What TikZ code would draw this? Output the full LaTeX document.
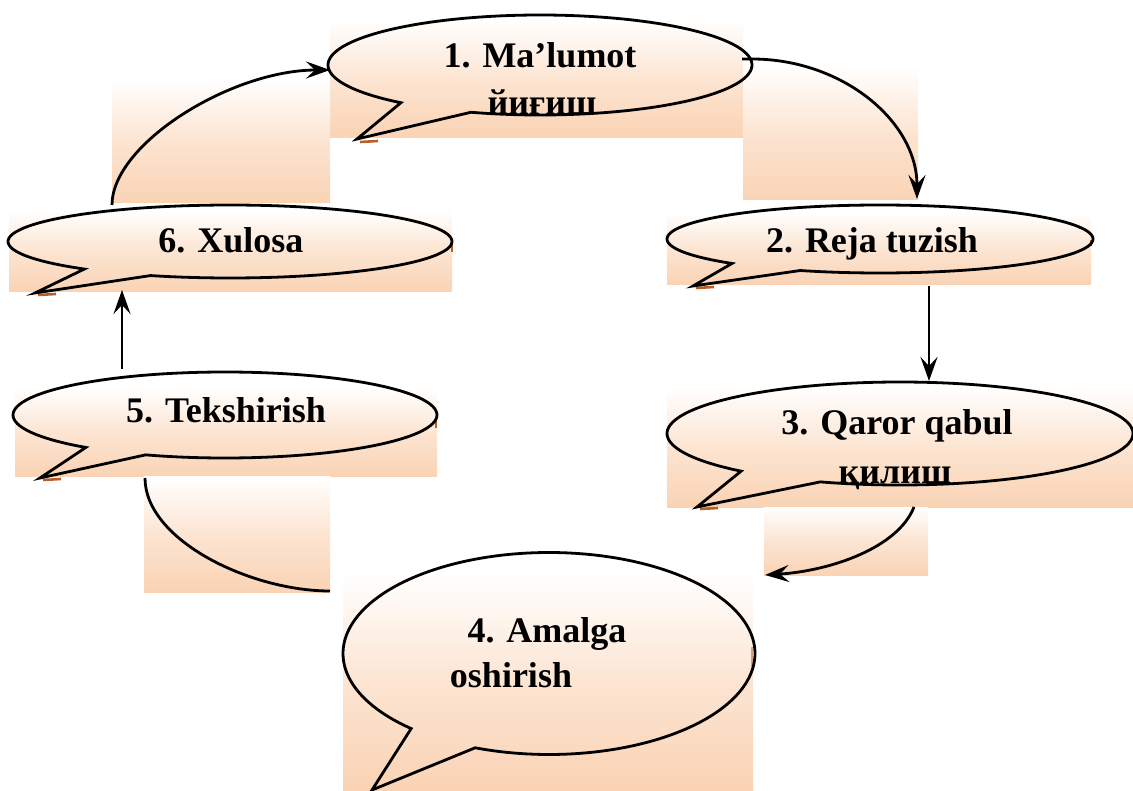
\documentclass[tikz,border=0pt]{standalone}
\usepackage{fontspec}
\setmainfont{Liberation Serif}
\usetikzlibrary{arrows.meta}
\definecolor{peach}{RGB}{250,211,180}
\definecolor{shadowbrown}{RGB}{185,95,35}
\tikzset{
  bgrect/.style={top color=white, bottom color=peach, middle color=peach!60!white, draw=none},
  bubble/.style={draw=black, line width=2.8pt, line join=miter},
  conn/.style={draw=black, line width=2.8pt},
  arr/.style={-{Stealth[length=24pt,width=17pt,inset=9pt]}},
  lbl/.style={font=\fontsize{36}{40}\selectfont\bfseries, inner sep=0pt, anchor=base},
  shd/.style={draw=shadowbrown, line width=2.6pt}
}
% #1 cx  #2 cy  #3 rx  #4 ry  #5 start angle  #6 end angle  #7 tip x  #8 tip y
\newcommand\mybubble[8]{%
  \draw[bubble] plot[domain=#5:#6, samples=120, smooth] ({#1+#3*cos(\x)},{#2-#4*sin(\x)}) -- (#7,#8) -- cycle;
}
\begin{document}
\begin{tikzpicture}[x=1pt,y=-1pt]
\useasboundingbox (0,0) rectangle (1133,791);

% gradient boxes of the shapes
\shade[bgrect] (330,20) rectangle (743,138);
\shade[bgrect] (667,213) rectangle (1091,285);
\shade[bgrect] (667,387) rectangle (1133,507);
\shade[bgrect] (343,573) rectangle (753,791);
\shade[bgrect] (15,388) rectangle (437,477);
\shade[bgrect] (9,210) rectangle (452,292);
% gradient boxes of the connectors
\shade[bgrect] (112,78) rectangle (330,203);
\shade[bgrect] (743,65) rectangle (918,200);
\shade[bgrect] (764,507) rectangle (928,575);
\shade[bgrect] (144,477) rectangle (330,592);

% connector end points
\coordinate (c12s) at (742,59);
\coordinate (c12e) at (917,199);
\coordinate (c23s) at (929,286);
\coordinate (c23e) at (929,381);
\coordinate (c34s) at (914,507);
\coordinate (c34e) at (765,575);
\coordinate (c45s) at (330,591);
\coordinate (c45e) at (145,478);
\coordinate (c56s) at (122,369);
\coordinate (c56e) at (122,290);
\coordinate (c61s) at (112,205);
\coordinate (c61e) at (330,70);

% connectors
\draw[conn,arr] (c12s) -- (752,59) .. controls (842,59) and (917,121) .. (c12e);
\draw[conn,arr] (c23s) -- (c23e);
\draw[conn,arr] (c34s) .. controls (898,548) and (830,571) .. (c34e);
\draw[conn] (c45s) .. controls (250,591) and (145,540) .. (c45e);
\draw[conn,arr] (c56s) -- (c56e);
\draw[conn,arr] (c61s) .. controls (112,144) and (231,70) .. (c61e);

% small shadow marks
\draw[shd] (360,142) -- (378,141);
\draw[shd] (696,288) -- (714,287);
\draw[shd] (700,509) -- (718,508);
\draw[shd] (43,480) -- (61,479);
\draw[shd] (38,295) -- (56,294);
\draw[shd] (452,243) -- (452,252);
\draw[shd] (1091,240) -- (1091,246);
\draw[shd] (436,418) -- (436,428);
\draw[shd, line width=1.5pt, draw=shadowbrown!60] (752,647) -- (752,667);

% callouts
\mybubble{540}{65}{212}{50}{251}{589}{357}{139}
\mybubble{880}{239}{213}{34}{248}{586}{693}{286}
\mybubble{900}{433.5}{233}{51.5}{250}{587}{697}{507}
\mybubble{549}{653.5}{206}{101}{249}{588}{372}{790}
\mybubble{225}{415}{212}{43}{248}{589}{40}{478}
\mybubble{230}{241.5}{222}{36.5}{249}{589}{35}{293}

% texts
\node[lbl] (t1a) at (540,68) {1. Ma’lumot};
\node[lbl] (t1b) at (542,115) {йиғиш};
\node[lbl] (t2) at (872,253) {2. Reja tuzish};
\node[lbl] (t3a) at (897,435) {3. Qaror qabul};
\node[lbl] (t3b) at (895,483) {қилиш};
\node[lbl] (t4a) at (547,642) {4. Amalga};
\node[lbl] (t4b) at (511,687) {oshirish};
\node[lbl] (t5) at (226,423) {5. Tekshirish};
\node[lbl] (t6) at (231,253) {6. Xulosa};
\end{tikzpicture}
\end{document}
